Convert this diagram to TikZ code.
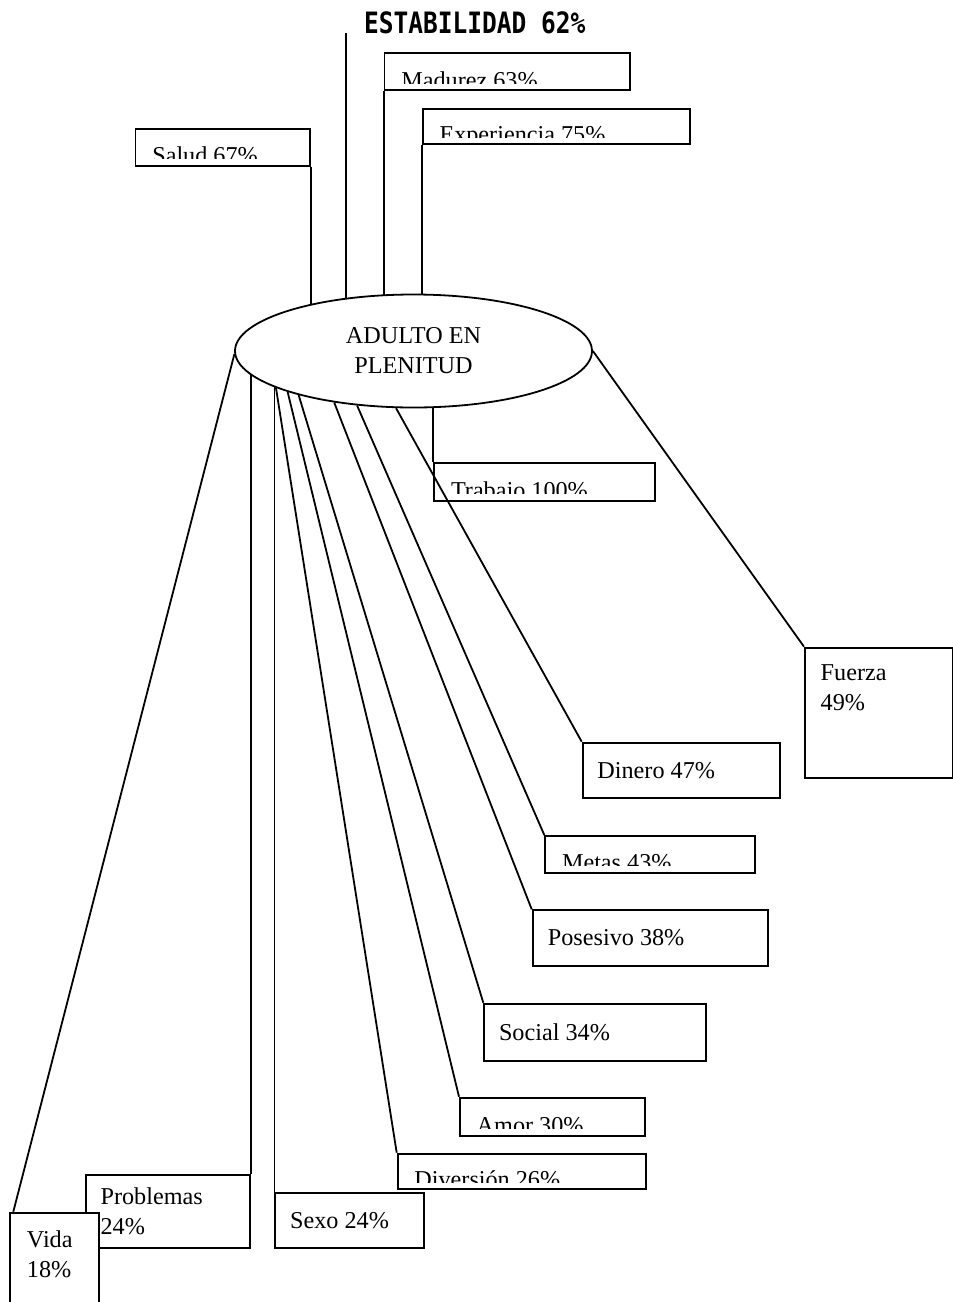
\documentclass[tikz,border=0pt]{standalone}
\usepackage{fontspec}
\setmainfont{Liberation Serif}
\newfontfamily\titulofont{DejaVu Sans Mono}
\usetikzlibrary{shapes.geometric,backgrounds}
\tikzset{
  caja/.style={draw, line width=1.8pt, anchor=north west, inner sep=0},
  texto/.style={inner sep=0, align=left, font=\fontsize{24.2}{30}\selectfont},
  linea/.style={line width=1.8pt},
}
\def\cortado(#1)(#2)#3{\begin{scope}\clip ([yshift=8]#1.south west) rectangle (#1.north east);
  \node[texto, anchor=base west] (#2) at ([xshift=17.5,yshift=3]#1.south west) {#3};\end{scope}}

\begin{document}
\begin{tikzpicture}[x=1pt, y=-1pt]
		%%%%% START %%%%%
		\useasboundingbox (0,0) rectangle (953,1302);
		
		\node[texto, align=center, ellipse, draw, fill=white, line width=1.8pt, minimum width=357, minimum height=113] (adulto) at (413.5,351) {ADULTO EN\\PLENITUD};
		
		\node[anchor=base west, inner sep=0, font=\titulofont\bfseries\fontsize{24.5}{30}\selectfont] (estabilidad) at (364,33.3) {\scalebox{1}[1.2]{ESTABILIDAD 62\%}};
		\coordinate (estab) at (345.7,33);
		
		\node[caja, minimum width=245.7, minimum height=37.6] (madurez) at (383.6,51.7) {};
		\cortado(madurez)(madurez-t){Madurez 63\%}
		\node[caja, minimum width=267.5, minimum height=35] (experiencia) at (421.8,108.3) {};
		\cortado(experiencia)(experiencia-t){Experiencia 75\%}
		\node[caja, minimum width=174.4, minimum height=37.3] (salud) at (134.6,127.7) {};
		\cortado(salud)(salud-t){Salud 67\%}
		
		\node[caja, minimum width=220.7, minimum height=37.7] (trabajo) at (433.3,462.3) {};
		\cortado(trabajo)(trabajo-t){Trabajo 100\%}
		
		\node[caja, minimum width=148, minimum height=130.6] (fuerza) at (804,646.7) {};
		\node[texto, anchor=north west] (fuerza-t) at ([xshift=16.5,yshift=-18]fuerza.north west) {Fuerza\\49\%};
		\node[caja, minimum width=197.3, minimum height=55.6] (dinero) at (581.7,741.7) {};
		\node[texto, anchor=west] (dinero-t) at ([xshift=15.5]dinero.west) {Dinero 47\%};
		\node[caja, minimum width=209.7, minimum height=36.7] (metas) at (544.3,835) {};
		\cortado(metas)(metas-t){Metas 43\%}
		\node[caja, minimum width=235.6, minimum height=55.7] (posesivo) at (531.7,909.3) {};
		\node[texto, anchor=west] (posesivo-t) at ([xshift=16]posesivo.west) {Posesivo 38\%};
		\node[caja, minimum width=221.7, minimum height=57.3] (social) at (483.3,1002.7) {};
		\node[texto, anchor=west] (social-t) at ([xshift=15.5]social.west) {Social 34\%};
		\node[caja, minimum width=185, minimum height=38.3] (amor) at (459,1096.7) {};
		\cortado(amor)(amor-t){Amor 30\%}
		\node[caja, minimum width=248.3, minimum height=35.6] (diversion) at (396.7,1152.7) {};
		\cortado(diversion)(diversion-t){Diversión 26\%}
		
		\node[caja, minimum width=148.6, minimum height=55] (sexo) at (274.4,1191.7) {};
		\node[texto, anchor=west] (sexo-t) at ([xshift=15.5]sexo.west) {Sexo 24\%};
		\node[caja, minimum width=163.8, minimum height=72.4] (problemas) at (85.4,1174.3) {};
		\node[texto, anchor=west] (problemas-t) at ([xshift=15]problemas.west) {Problemas\\24\%};
		\node[caja, fill=white, minimum width=88.7, minimum height=100] (vida) at (9.3,1211.7) {};
		\node[texto, anchor=north west] (vida-t) at ([xshift=17.5,yshift=-19]vida.north west) {Vida\\18\%};
		
		\begin{scope}[on background layer]
		\draw[linea] (estab) -- (estab |- adulto.center);
		\draw[linea] (madurez.south west) -- (madurez.south west |- adulto.center);
		\draw[linea] (experiencia.south west) -- (experiencia.south west |- adulto.center);
		\draw[linea] (salud.south east) -- (salud.south east |- adulto.center);
		\draw[linea] (trabajo.north west) -- (trabajo.north west |- adulto.center);
		\draw[linea] (problemas.north east) -- (problemas.north east |- adulto.center);
		\draw[linea] (sexo.north west) -- (sexo.north west |- adulto.center);
		\draw[linea] (adulto.181) -- ([xshift=4]vida.north west);
		\draw[linea] (adulto.195.6) -- (diversion.north west);
		\draw[linea] (adulto.198.2) -- (amor.north west);
		\draw[linea] (adulto.201.1) -- (social.north west);
		\draw[linea] (adulto.213) -- (posesivo.north west);
		\draw[linea] (adulto.224.2) -- (metas.north west);
		\draw[linea] (adulto.253.2) -- (dinero.north west);
		\draw[linea] (adulto.east) -- (fuerza.north west);
		\end{scope}
		
		%%%%% END %%%%%
\end{tikzpicture}
\end{document}
